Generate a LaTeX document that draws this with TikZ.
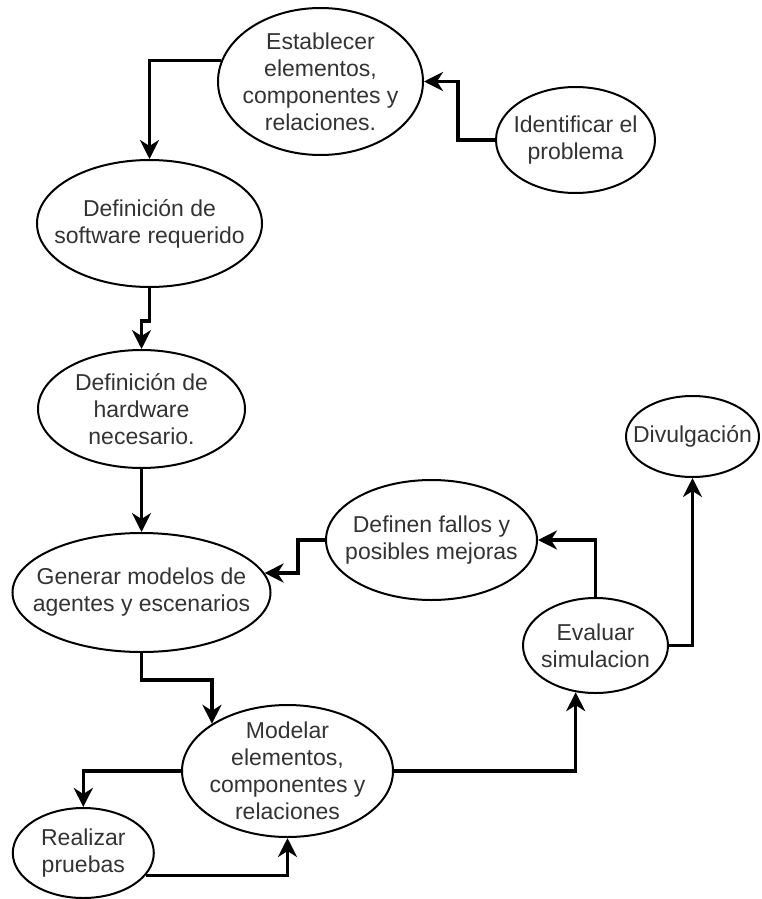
\documentclass[tikz,border=0pt]{standalone}
\usepackage{fontspec}
\setmainfont{Liberation Sans}
\usetikzlibrary{shapes.geometric,arrows.meta,calc}
\definecolor{txtgray}{HTML}{333333}
\tikzset{
  el/.style={draw=black, line width=2pt, ellipse, inner sep=0pt},
  txt/.style={align=center, text=txtgray, font=\fontsize{23}{27}\selectfont, inner sep=0pt},
  arr/.style={draw=black, line width=3.2pt, -{Stealth[length=19pt,width=19pt,inset=6pt]}},
}
\begin{document}
\begin{tikzpicture}[x=1pt,y=-1pt]
\useasboundingbox (0,0) rectangle (762,899);
% ellipses
\node[el, minimum width=205pt, minimum height=147pt] (est) at (320.5,81.5) {};
\node[txt] (est-t) at (est) {Establecer\\elementos,\\componentes y\\relaciones.};
\node[el, minimum width=159pt, minimum height=106pt] (iden) at (575.5,140) {};
\node[txt] (iden-t) at (iden) {Identificar el\\problema};
\node[el, minimum width=225pt, minimum height=127pt] (soft) at (149.5,223.5) {};
\node[txt] (soft-t) at (soft) {Definición de\\software requerido};
\node[el, minimum width=207pt, minimum height=118pt] (hard) at (141.5,409) {};
\node[txt] (hard-t) at (hard) {Definición de\\hardware\\necesario.};
\node[el, minimum width=258pt, minimum height=119pt] (gen) at (141.5,592.5) {};
\node[txt] (gen-t) at (gen) {Generar modelos de\\agentes y escenarios};
\node[el, minimum width=211pt, minimum height=120pt] (def) at (431.5,540) {};
\node[txt] (def-t) at (def) {Definen fallos y\\posibles mejoras};
\node[el, minimum width=133pt, minimum height=81pt] (div) at (692.5,436.5) {};
\node[txt] (div-t) at (div) {Divulgación};
\node[el, minimum width=145pt, minimum height=95pt] (eval) at (595.5,645.5) {};
\node[txt] (eval-t) at (eval) {Evaluar\\simulacion};
\node[el, minimum width=211pt, minimum height=132pt] (mod) at (287.5,771) {};
\node[txt] (mod-t) at (mod) {Modelar\\elementos,\\componentes y\\relaciones};
\node[el, minimum width=141pt, minimum height=90pt] (real) at (83.3,853) {};
\node[txt] (real-t) at (real) {Realizar\\pruebas};
% connectors
\draw[arr] (est.168) -| (soft.north);
\draw[arr] (iden.west) -- ++(-37,0) |- (est.east);
\draw[arr] (soft.south) -- ++(0,33) -| (hard.north);
\draw[arr] (hard.south) -- (gen.north);
\draw[arr] (def.west) -- ++(-27,0) |- (gen.9);
\draw[arr] (eval.north) |- (def.east);
\draw[arr] (eval.east) -| (div.south);
\draw[arr] (gen.south) -- ++(0,27) -| (mod.148);
\draw[arr] (mod.west) -| (real.north);
\draw[arr] (real.-20) -| (mod.south);
\draw[arr] (mod.east) -| (eval.247);
\end{tikzpicture}
\end{document}
